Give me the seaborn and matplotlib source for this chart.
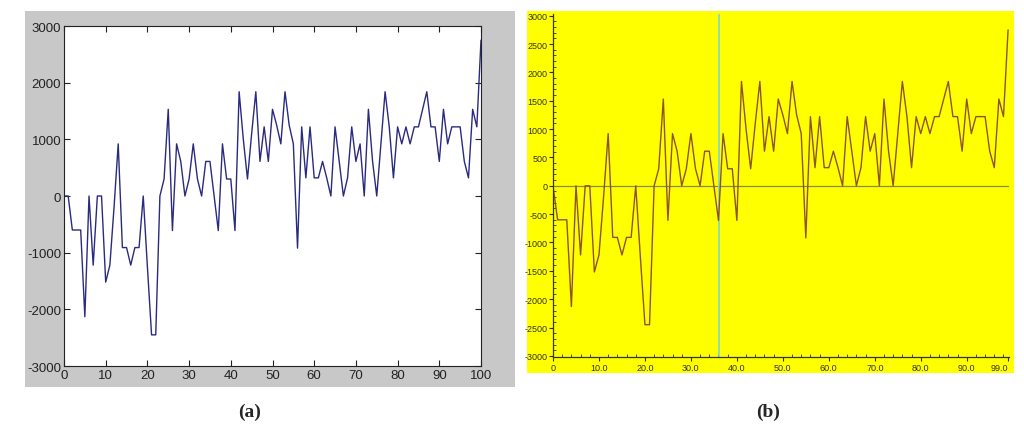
import pandas as pd
import matplotlib
matplotlib.use("Agg")
import matplotlib.pyplot as plt
from matplotlib.ticker import MultipleLocator
import seaborn as sns

# signal values, one per sample 0..100
signal = [0, 0, -600, -600, -600, -2130, 0, -1220, 0, 0,
          -1520, -1220, -200, 920, -910, -910, -1220, -910, -910, 0,
          -1250, -2450, -2450, 0, 300, 1530, -610, 920, 610, 0,
          300, 920, 300, 0, 610, 610, 0, -610, 920, 300,
          300, -610, 1840, 1000, 300, 1100, 1840, 610, 1220, 610,
          1530, 1250, 920, 1840, 1250, 920, -920, 1220, 320, 1220,
          320, 320, 610, 320, 0, 1220, 610, 0, 320, 1220,
          610, 920, 0, 1530, 610, 0, 920, 1840, 1220, 320,
          1220, 920, 1220, 920, 1220, 1220, 1530, 1840, 1220, 1220,
          610, 1530, 920, 1220, 1220, 1220, 610, 320, 1530, 1220,
          2750]
samples_a = list(range(len(signal)))
# panel (b) shows the same signal, one sample later
signal_b = signal[1:]
samples_b = list(range(len(signal_b)))
cursor_b = 36.1

xticks_a = list(range(0, 101, 10))
yticks_a = list(range(-3000, 3001, 1000))
xticks_b = [0, 10, 20, 30, 40, 50, 60, 70, 80, 90, 99]
xlabels_b = ["0", "10.0", "20.0", "30.0", "40.0", "50.0", "60.0", "70.0", "80.0", "90.0", "99.0"]
yticks_b = list(range(-3000, 3001, 500))

df_a = pd.DataFrame({"x": samples_a, "y": signal})
df_b = pd.DataFrame({"x": samples_b, "y": signal_b})

sns.set_style("white")
plt.rcParams['font.family'] = ['Liberation Sans', 'DejaVu Sans']
plt.rcParams['axes.unicode_minus'] = False

fig = plt.figure(figsize=(10.24, 4.39), dpi=100)
W, H = 1024, 439

def frac(x0, y0, x1, y1):
    return [x0 / W, (H - y1) / H, (x1 - x0) / W, (y1 - y0) / H]

def backdrop(rect, color):
    bg = fig.add_axes(rect, zorder=-1)
    bg.set_facecolor(color)
    bg.set_xticks([])
    bg.set_yticks([])
    for s in bg.spines.values():
        s.set_visible(False)

backdrop(frac(25, 12, 515, 388), "#c8c8c8")
backdrop(frac(527, 12, 1014, 374), "#ffff00")

# ------------------------------
# (a) MATLAB-like plot
# ------------------------------
ax1 = fig.add_axes(frac(64, 27, 481, 367))
ax1.set_facecolor("white")
sns.lineplot(data=df_a, x="x", y="y", ax=ax1, color="#2a2a80", linewidth=1.0)
ax1.set_xlim(0, 100)
ax1.set_ylim(-3000, 3000)
ax1.set_xticks(xticks_a)
ax1.set_yticks(yticks_a)
ax1.set_xlabel("")
ax1.set_ylabel("")
ax1.tick_params(direction="in", length=4, width=0.8, top=True, right=True,
                bottom=True, left=True, labelsize=9.5, colors="#222222", pad=2)
for s in ax1.spines.values():
    s.set_color("#222222")
    s.set_linewidth(0.8)

# ------------------------------
# (b) yellow scope plot
# ------------------------------
ax2 = fig.add_axes(frac(553, 15, 1009, 358))
ax2.set_facecolor("#ffff00")
ax2.axhline(0, color="#8a8a40", linewidth=0.9, zorder=1)
ax2.axvline(cursor_b, color="#7fd8c8", linewidth=1.2, zorder=1)
sns.lineplot(data=df_b, x="x", y="y", ax=ax2, color="#8e5228", linewidth=1.0, zorder=2)
ax2.set_xlim(0, 99.2)
ax2.set_ylim(-3020, 3030)
ax2.set_xticks(xticks_b)
ax2.set_xticklabels(xlabels_b)
ax2.set_yticks(yticks_b)
ax2.xaxis.set_minor_locator(MultipleLocator(2))
ax2.yaxis.set_minor_locator(MultipleLocator(100))
ax2.set_xlabel("")
ax2.set_ylabel("")
ax2.tick_params(which="major", direction="out", length=3, width=0.8,
                bottom=True, left=True, labelsize=6.5, colors="#333333", pad=1)
ax2.tick_params(which="minor", direction="in", length=2, width=0.6,
                bottom=True, left=True, colors="#333333")
ax2.get_xticklabels()[-1].set_horizontalalignment("right")
for name, s in ax2.spines.items():
    if name in ("top", "right"):
        s.set_visible(False)
    else:
        s.set_color("#333333")
        s.set_linewidth(0.9)

# captions
fig.text(250 / W, 1 - 412 / H, "(a)", ha="center", va="center",
         fontsize=14, fontweight="bold", family="Liberation Serif")
fig.text(768 / W, 1 - 412 / H, "(b)", ha="center", va="center",
         fontsize=14, fontweight="bold", family="Liberation Serif")

fig.savefig("out.png", dpi=100)
